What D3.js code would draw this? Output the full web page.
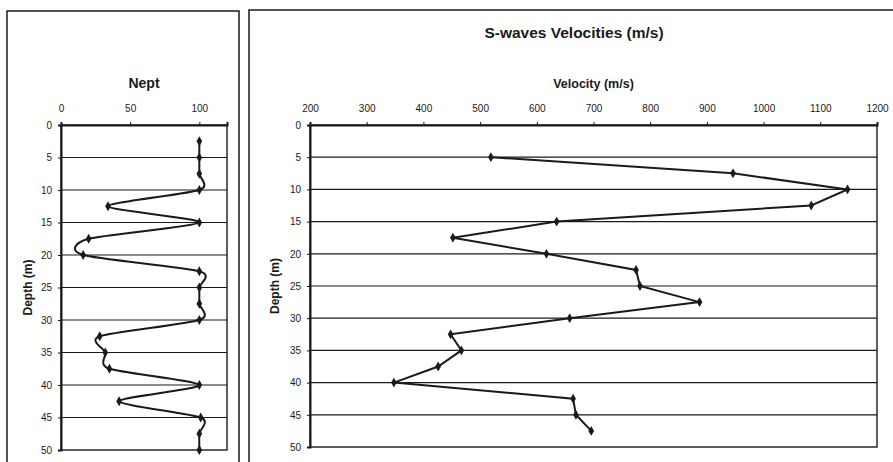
<!DOCTYPE html>
<html>
<head>
<meta charset="utf-8">
<script src="https://cdn.jsdelivr.net/npm/d3@7"></script>
<style>
  body { margin: 0; background: #fff; }
  svg { display: block; font-family: "Liberation Sans", Arial, sans-serif; }
</style>
</head>
<body>
<svg id="chart" width="893" height="462"></svg>
<script>
// --- data ---
const depthTicks = [0, 5, 10, 15, 20, 25, 30, 35, 40, 45, 50];

const neptDepth = [2.5, 5, 7.5, 10, 12.5, 15, 17.5, 20, 22.5, 25, 27.5, 30, 32.5, 35, 37.5, 40, 42.5, 45, 47.5, 50];
const neptValue = [100, 100, 100, 100, 34, 100, 20, 16, 100, 100, 100, 100, 28, 32, 35, 100, 42, 101, 100, 100];
const neptTicks = [0, 50, 100];

const vsDepth = [5, 7.5, 10, 12.5, 15, 17.5, 20, 22.5, 25, 27.5, 30, 32.5, 35, 37.5, 40, 42.5, 45, 47.5];
const vsValue = [519, 946, 1148, 1084, 635, 452, 617, 775, 782, 887, 658, 448, 467, 426, 348, 664, 669, 696];
const vsTicks = [200, 300, 400, 500, 600, 700, 800, 900, 1000, 1100, 1200];

const ink = "#1a1a1a";
const svg = d3.select("#chart");

// outer frames of the two excel charts
svg.append("rect").attr("x", 7).attr("y", 11).attr("width", 232).attr("height", 470)
  .attr("fill", "none").attr("stroke", ink).attr("stroke-width", 1.5);
svg.append("rect").attr("x", 249).attr("y", 10).attr("width", 660).attr("height", 470)
  .attr("fill", "none").attr("stroke", ink).attr("stroke-width", 1.5);

function depthPanel(opts) {
  const { left, right, top, bottom, xDomain, xTicks, depths, values, curve, xTitle } = opts;
  const x = d3.scaleLinear().domain(xDomain).range([left, right]);
  const y = d3.scaleLinear().domain([0, 50]).range([top, bottom]);
  const g = svg.append("g");

  // horizontal grid
  g.append("g").selectAll("line").data(depthTicks.slice(1, -1)).join("line")
    .attr("x1", left).attr("x2", right)
    .attr("y1", d => y(d)).attr("y2", d => y(d))
    .attr("stroke", ink).attr("stroke-width", 1.2);

  // plot frame
  g.append("rect").attr("x", left).attr("y", top)
    .attr("width", right - left).attr("height", bottom - top)
    .attr("fill", "none").attr("stroke", ink).attr("stroke-width", 1.4);

  // axes
  const xAxis = g.append("g").attr("transform", `translate(0,${top})`)
    .call(d3.axisTop(x).tickValues(xTicks).tickSize(3).tickPadding(10).tickFormat(d3.format("d")));
  const yAxis = g.append("g").attr("transform", `translate(${left},0)`)
    .call(d3.axisLeft(y).tickValues(depthTicks).tickSize(3).tickPadding(6));
  [xAxis, yAxis].forEach(a => {
    a.select(".domain").attr("stroke", ink).attr("stroke-width", 2);
    a.selectAll(".tick line").attr("stroke", ink);
    a.selectAll("text").attr("fill", ink).style("font-size", "10px");
  });

  // titles
  g.append("text").attr("x", (left + right) / 2).attr("y", opts.xTitleY)
    .attr("text-anchor", "middle").attr("fill", ink)
    .style("font-weight", "bold").style("font-size", opts.xTitleSize)
    .text(xTitle);
  g.append("text")
    .attr("transform", `translate(${opts.yTitleX},${(top + bottom) / 2}) rotate(-90)`)
    .attr("text-anchor", "middle").attr("fill", ink)
    .style("font-weight", "bold").style("font-size", "12px")
    .text("Depth (m)");

  // series
  const pts = depths.map((d, i) => [x(values[i]), y(d)]);
  g.append("path").datum(pts)
    .attr("d", d3.line().curve(curve))
    .attr("fill", "none").attr("stroke", ink).attr("stroke-width", 2);
  g.append("g").selectAll("path").data(pts).join("path")
    .attr("transform", d => `translate(${d[0]},${d[1]})`)
    .attr("d", d3.symbol(d3.symbolDiamond, 28))
    .attr("fill", ink);
}

depthPanel({
  left: 61, right: 227, top: 125, bottom: 450,
  xDomain: [0, 120], xTicks: neptTicks,
  depths: neptDepth, values: neptValue,
  curve: d3.curveCardinal.tension(0.25),
  xTitle: "Nept", xTitleY: 88, xTitleSize: "14px", yTitleX: 32
});

depthPanel({
  left: 310, right: 877, top: 125, bottom: 447,
  xDomain: [200, 1200], xTicks: vsTicks,
  depths: vsDepth, values: vsValue,
  curve: d3.curveLinear,
  xTitle: "Velocity (m/s)", xTitleY: 88, xTitleSize: "12.5px", yTitleX: 279
});

svg.append("text").attr("x", 574).attr("y", 38)
  .attr("text-anchor", "middle").attr("fill", ink)
  .style("font-weight", "bold").style("font-size", "15.5px")
  .text("S-waves Velocities (m/s)");
</script>
</body>
</html>
